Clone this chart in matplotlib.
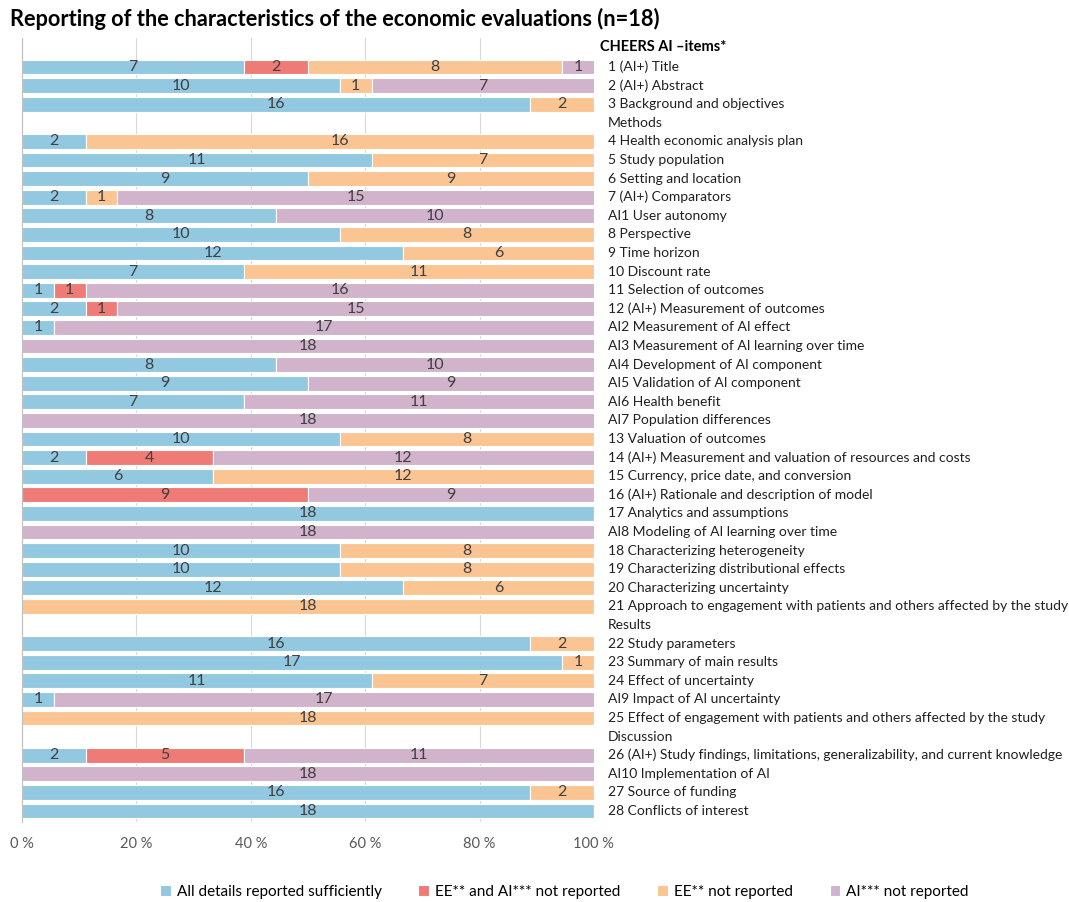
import matplotlib.pyplot as plt
import numpy as np
from matplotlib.transforms import blended_transform_factory

plt.rcParams['font.family'] = ['Lato', 'DejaVu Sans']

# rows from top to bottom; headers have no bar
labels = [
    "1 (AI+) Title", "2 (AI+) Abstract", "3 Background and objectives",
    "Methods",
    "4 Health economic analysis plan", "5 Study population", "6 Setting and location",
    "7 (AI+) Comparators", "AI1 User autonomy", "8 Perspective", "9 Time horizon",
    "10 Discount rate", "11 Selection of outcomes", "12 (AI+) Measurement of outcomes",
    "AI2 Measurement of AI effect", "AI3 Measurement of AI learning over time",
    "AI4 Development of AI component", "AI5 Validation of AI component",
    "AI6 Health benefit", "AI7 Population differences", "13 Valuation of outcomes",
    "14 (AI+) Measurement and valuation of resources and costs",
    "15 Currency, price date, and conversion", "16 (AI+) Rationale and description of model",
    "17 Analytics and assumptions", "AI8 Modeling of AI learning over time",
    "18 Characterizing heterogeneity", "19 Characterizing distributional effects",
    "20 Characterizing uncertainty",
    "21 Approach to engagement with patients and others affected by the study",
    "Results",
    "22 Study parameters", "23 Summary of main results", "24 Effect of uncertainty",
    "AI9 Impact of AI uncertainty",
    "25 Effect of engagement with patients and others affected by the study",
    "Discussion",
    "26 (AI+) Study findings, limitations, generalizability, and current knowledge",
    "AI10 Implementation of AI", "27 Source of funding", "28 Conflicts of interest",
]
headers = {"Methods", "Results", "Discussion"}

# counts per item (n=18); headers skipped
reported = [7, 10, 16, 2, 11, 9, 2, 8, 10, 12, 7, 1, 2, 1, 0, 8, 9, 7, 0, 10, 2, 6, 0, 18, 0,
            10, 10, 12, 0, 16, 17, 11, 1, 0, 2, 0, 16, 18]
ee_ai_not = [2, 0, 0, 0, 0, 0, 0, 0, 0, 0, 0, 1, 1, 0, 0, 0, 0, 0, 0, 0, 4, 0, 9, 0, 0,
             0, 0, 0, 0, 0, 0, 0, 0, 0, 5, 0, 0, 0]
ee_not = [8, 1, 2, 16, 7, 9, 1, 0, 8, 6, 11, 0, 0, 0, 0, 0, 0, 0, 0, 8, 0, 12, 0, 0, 0,
          8, 8, 6, 18, 2, 1, 7, 0, 18, 0, 0, 2, 0]
ai_not = [1, 7, 0, 0, 0, 0, 15, 10, 0, 0, 0, 16, 15, 17, 18, 10, 9, 11, 18, 0, 12, 0, 9, 0, 18,
          0, 0, 0, 0, 0, 0, 0, 17, 0, 11, 18, 0, 0]

series = [reported, ee_ai_not, ee_not, ai_not]
names = ["All details reported sufficiently", "EE** and AI*** not reported",
         "EE** not reported", "AI*** not reported"]
colors = ["#92C8E0", "#EE7B76", "#FBC593", "#D1B3CC"]

fig = plt.figure(figsize=(10.69, 9.02), dpi=100)
ax = fig.add_axes([0.0206, 0.0887, 0.535, 0.8692])

item_pos = [i + 1 for i, l in enumerate(labels) if l not in headers]
y = np.array(item_pos)
left = np.zeros(len(y))
for vals, name, c in zip(series, names, colors):
    v = np.array(vals, dtype=float)
    pct = v / 18 * 100
    ax.barh(y, pct, left=left, height=0.8, color=c, edgecolor='white', linewidth=0.8, label=name)
    for yy, l, p, n in zip(y, left, pct, v):
        if n > 0:
            ax.text(l + p / 2, yy, f"{int(n)}", ha='center', va='center', fontsize=11.5,
                    color='#404040')
    left += pct

trans = blended_transform_factory(ax.transAxes, ax.transData)
ax.text(1.010, -0.1, "CHEERS AI \u2013items*", transform=trans, ha='left', va='center',
        fontsize=10.5, fontweight='bold', color='black')
for i, l in enumerate(labels):
    ax.text(1.0245, i + 1, l, transform=trans, ha='left', va='center', fontsize=10,
            color='#202020')

ax.set_xlim(0, 100)
ax.set_ylim(41.59, -0.56)
ax.set_yticks([])
ax.set_xticks(np.arange(0, 101, 20))
ax.set_xticklabels([f"{t} %" for t in range(0, 101, 20)], fontsize=10.5, color='#595959')
ax.tick_params(axis='x', length=0, pad=11)
ax.grid(axis='x', color='#D9D9D9', linewidth=0.8)
ax.set_axisbelow(True)
for s in ['top', 'right', 'bottom']:
    ax.spines[s].set_visible(False)
ax.spines['left'].set_color('#BFBFBF')

fig.text(0.009, 0.979, "Reporting of the characteristics of the economic evaluations (n=18)",
         fontsize=15.7, fontweight='bold', ha='left', va='center')

fig.legend(loc='center', bbox_to_anchor=(0.528, 0.011), ncol=4, frameon=False, fontsize=11,
           handlelength=0.7, handleheight=0.7, columnspacing=2.4, handletextpad=0.4)

fig.savefig("out.png", dpi=100)
